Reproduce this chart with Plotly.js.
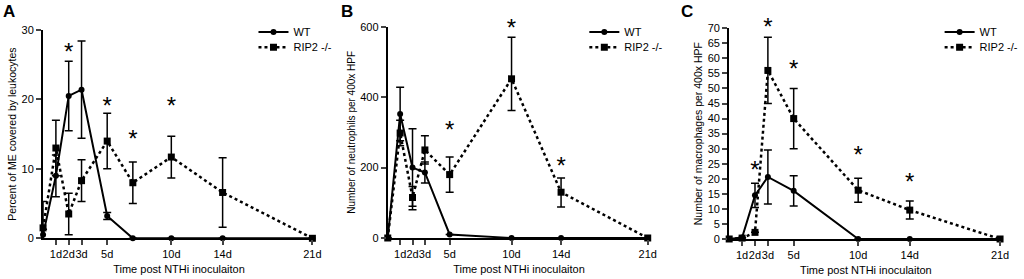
<!DOCTYPE html>
<html><head><meta charset="utf-8">
<script src="https://cdn.plot.ly/plotly-3.0.1.min.js"></script>
<style>html,body{margin:0;padding:0;background:#fff}#g{width:1024px;height:279px}</style>
</head><body><div id="g"></div>
<script>
// Days post inoculation
var daysA = [0, 1, 2, 3, 5, 7, 10, 14, 21];
var daysB = [0, 1, 2, 3, 5, 10, 14, 21];
var daysC = [0, 1, 2, 3, 5, 10, 14, 21];
var tickDays = [1, 2, 3, 5, 10, 14, 21];
var tickLabels = ['1d', '2d', '3d', '5d', '10d', '14d', '21d'];

// Panel A: percent of ME covered by leukocytes
var wtA = [0.5, 9, 20.5, 21.4, 3.2, 0, 0, 0, 0];
var wtAerr = [0.8, 3, 5, 7, 0.5, 0, 0, 0, 0];
var ripA = [1.5, 13, 3.5, 8.3, 14, 8, 11.7, 6.6, 0];
var ripAerr = [3.8, 4, 3, 3, 4, 3, 3, 5, 0];
var starA_x = [2, 5, 7, 10];
var starA_y = [26.5, 18.8, 14.0, 18.8];

// Panel B: neutrophils per 400x HPF
var wtB = [0, 352, 200, 186, 10, 0, 0, 0];
var wtBerr = [0, 76, 110, 30, 0, 0, 0, 0];
var ripB = [0, 298, 115, 250, 180, 452, 130, 0];
var ripBerrUp = [0, 36, 31, 40, 50, 118, 40, 0];
var ripBerrDn = [0, 36, 35, 40, 50, 90, 42, 0];
var starB_x = [5, 10, 14];
var starB_y = [300, 592, 200];

// Panel C: macrophages per 400x HPF
var wtC = [0, 0.5, 14.5, 20.6, 16, 0, 0, 0];
var wtCerr = [0, 0, 4, 9, 5, 0, 0, 0];
var ripC = [0, 0.3, 2.2, 56, 40, 16.2, 9.6, 0];
var ripCerr = [0, 0, 0, 11, 10, 4, 3, 0];
var starC_x = [2, 3, 5, 10, 14];
var starC_y = [22.4, 69.9, 55.8, 27.3, 18.2];

var FONT = 'Liberation Sans, Arial, sans-serif';
var traces = [];
function addPanel(n, x, wt, wtErrUp, wtErrDn, rip, ripErrUp, ripErrDn, sx, sy) {
  var xa = 'x' + (n === 1 ? '' : n), ya = 'y' + (n === 1 ? '' : n);
  var l1 = n === 1 ? 'legend' : 'legend' + (2 * n - 1), l2 = 'legend' + (2 * n);
  traces.push({x: x, y: wt, xaxis: xa, yaxis: ya, name: 'WT', legend: l1,
    type: 'scatter', mode: 'lines+markers', cliponaxis: false,
    line: {color: '#000', width: 2}, marker: {symbol: 'circle', size: 6, color: '#000'},
    error_y: {type: 'data', array: wtErrUp, arrayminus: wtErrDn, symmetric: false, color: '#000', thickness: 1.5, width: 4}});
  traces.push({x: x, y: rip, xaxis: xa, yaxis: ya, name: 'RIP2 -/-', legend: l2,
    type: 'scatter', mode: 'lines+markers', cliponaxis: false,
    line: {color: '#000', width: 2.5, dash: 'dot'}, marker: {symbol: 'square', size: 7, color: '#000'},
    error_y: {type: 'data', array: ripErrUp, arrayminus: ripErrDn, symmetric: false, color: '#000', thickness: 1.5, width: 4}});
  traces.push({x: sx, y: sy, xaxis: xa, yaxis: ya, type: 'scatter', mode: 'text', text: sx.map(function(){return '*';}),
    textfont: {family: FONT, size: 24, color: '#000'}, textposition: 'middle center', showlegend: false, cliponaxis: false, hoverinfo: 'skip'});
}
addPanel(1, daysA, wtA, wtAerr, wtAerr, ripA, ripAerr, ripAerr, starA_x, starA_y);
addPanel(2, daysB, wtB, wtBerr, wtBerr, ripB, ripBerrUp, ripBerrDn, starB_x, starB_y);
addPanel(3, daysC, wtC, wtCerr, wtCerr, ripC, ripCerr, ripCerr, starC_x, starC_y);

function xax(dom) {
  return {domain: dom, range: [0, 21.2], tickvals: tickDays, ticktext: tickLabels, ticks: 'outside', ticklen: 5, tickwidth: 2, tickangle: 0,
    showline: true, linewidth: 2, linecolor: '#000', showgrid: false, zeroline: false, fixedrange: true,
    tickfont: {family: FONT, size: 11, color: '#000'},
    title: {text: 'Time post NTHi inoculaiton', font: {family: FONT, size: 11, color: '#000'}, standoff: 6}};
}
function yax(dom, rng, dt, title, anchor, fs) {
  return {domain: dom, range: rng, dtick: dt, tick0: 0, ticks: 'outside', ticklen: 5, tickwidth: 2, anchor: anchor,
    showline: true, linewidth: 2, linecolor: '#000', showgrid: false, zeroline: false, fixedrange: true,
    tickfont: {family: FONT, size: 11, color: '#000'},
    title: {text: title, font: {family: FONT, size: fs, color: '#000'}, standoff: 3}};
}
var legFont = {family: FONT, size: 11, color: '#000'};
function leg(x, y) {
  return {x: x, y: y, xanchor: 'left', yanchor: 'top', font: legFont, bgcolor: 'rgba(0,0,0,0)', itemwidth: 30};
}
function letter(t, x) {
  return {text: '<b>' + t + '</b>', x: x, y: 0.995, xref: 'paper', yref: 'paper', xanchor: 'left', yanchor: 'top',
    showarrow: false, borderpad: 0, font: {family: FONT, size: 17, color: '#000'}};
}
var layout = {
  width: 1024, height: 279, margin: {l: 0, r: 0, t: 0, b: 0}, paper_bgcolor: '#fff', plot_bgcolor: '#fff',
  xaxis: Object.assign(xax([0.0423, 0.3094]), {anchor: 'y'}),
  yaxis: yax([0.1459, 0.8925], [0, 30], 10, 'Percent of ME covered by leukocytes', 'x', 10.5),
  xaxis2: Object.assign(xax([0.3809, 0.6387]), {anchor: 'y2'}),
  yaxis2: yax([0.147, 0.9043], [0, 600], 200, 'Number of neutrophils per 400x HPF', 'x2', 10),
  xaxis3: Object.assign(xax([0.7163, 0.9849]), {anchor: 'y3'}),
  yaxis3: yax([0.1434, 0.8986], [0, 70], 5, 'Number of macrophages per 400x HPF', 'x3', 10.5),
  legend: leg(0.249, 0.937), legend2: leg(0.249, 0.883),
  legend3: leg(0.574, 0.937), legend4: leg(0.574, 0.883),
  legend5: leg(0.923, 0.937), legend6: leg(0.923, 0.883),
  annotations: [letter('A', 0.002), letter('B', 0.334), letter('C', 0.668)]
};
Plotly.newPlot('g', traces, layout, {displayModeBar: false, staticPlot: true});
</script></body></html>
